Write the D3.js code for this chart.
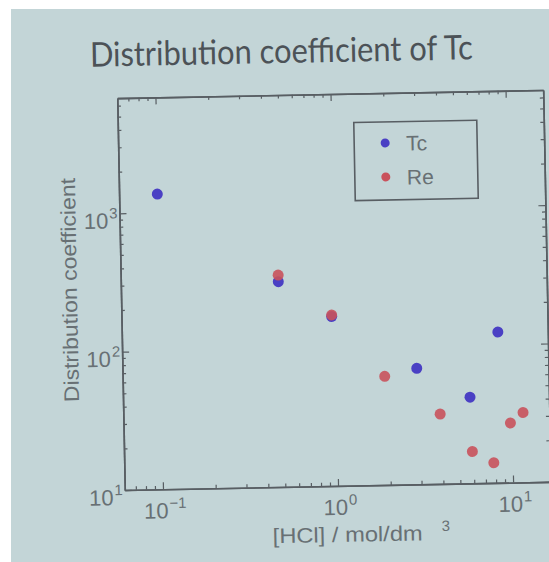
<!DOCTYPE html>
<html>
<head>
<meta charset="utf-8">
<script src="https://cdn.jsdelivr.net/npm/d3@7"></script>
<style>
  body { margin: 0; background: #fff; }
  svg { display: block; }
</style>
</head>
<body>
<svg id="chart"></svg>
<script>
const hclTc = [0.1, 0.48, 0.96, 2.9, 5.8, 8.5];
const kdTc  = [1360, 305, 168, 69, 42, 123];
const hclRe = [0.48, 0.96, 1.9, 3.9, 5.9, 7.8, 9.8, 11.6];
const kdRe  = [340, 172, 61, 32, 17, 14, 27, 32];
const seriesNames = ["Tc", "Re"];
const xDecades = [-1, 0, 1];
const yDecades = [1, 2, 3];

let W = 549, H = 562;
let plotL = 121, plotR = 547, plotT = 94, plotB = 486;

let svg = d3.select("#chart").attr("width", W).attr("height", H);

// slide background (photo has a thin white margin top/left)
svg.append("rect").attr("x", 11).attr("y", 9).attr("width", W - 11).attr("height", H - 9)
   .attr("fill", "#c3d5d7");

// photo is slightly tilted
let g = svg.append("g").attr("transform", "rotate(-1.1, 334, 291)");

let x = d3.scaleLog().domain([0.0605, 16.4]).range([plotL, plotR]);
let y = d3.scaleLog().domain([10, 6800]).range([plotB, plotT]);

let axisCol = "#585e63", textCol = "#687074";
let font = "Liberation Sans, Arial, sans-serif";

let xMajor = xDecades.map(e => Math.pow(10, e));
let yMajor = yDecades.map(e => Math.pow(10, e));
let xMinor = x.ticks().filter(v => !xMajor.some(m => Math.abs(m - v) < 1e-9));
let yMinor = y.ticks().filter(v => !yMajor.some(m => Math.abs(m - v) < 1e-9));

function drawAxis(axisFn, scale, vals, len, transform) {
  let a = g.append("g").attr("transform", transform)
    .call(axisFn(scale).tickValues(vals).tickSizeInner(len).tickSizeOuter(0).tickFormat(""));
  a.select(".domain").attr("stroke", axisCol).attr("stroke-width", 1.6);
  a.selectAll(".tick line").attr("stroke", axisCol).attr("stroke-width", 1.2);
  return a;
}

// bottom / top
drawAxis(d3.axisBottom, x, xMajor, -7, `translate(0,${plotB})`);
drawAxis(d3.axisBottom, x, xMinor, -3.5, `translate(0,${plotB})`);
drawAxis(d3.axisTop, x, xMajor, -7, `translate(0,${plotT})`);
drawAxis(d3.axisTop, x, xMinor, -3.5, `translate(0,${plotT})`);
// left / right
drawAxis(d3.axisLeft, y, yMajor, -7, `translate(${plotL},0)`);
drawAxis(d3.axisLeft, y, yMinor, -3.5, `translate(${plotL},0)`);
drawAxis(d3.axisRight, y, yMajor, -7, `translate(${plotR},0)`);
drawAxis(d3.axisRight, y, yMinor, -3.5, `translate(${plotR},0)`);

// tick labels as 10 with superscript exponent
function powLabel(sel, exp) {
  sel.append("tspan").text("10");
  sel.append("tspan").attr("dy", -10).attr("dx", 1).attr("font-size", 15)
     .text(exp < 0 ? "\u2212" + (-exp) : String(exp));
}

g.selectAll(".xlab").data(xDecades).enter().append("text")
  .attr("x", d => x(Math.pow(10, d)) + 2)
  .attr("y", plotB + 29)
  .attr("text-anchor", "middle")
  .attr("font-family", font)
  .attr("font-size", 22).attr("fill", textCol)
  .each(function(d) { powLabel(d3.select(this), d); });

g.selectAll(".ylab").data(yDecades).enter().append("text")
  .attr("x", plotL - 2)
  .attr("y", d => y(Math.pow(10, d)) + 15)
  .attr("text-anchor", "end")
  .attr("font-family", font)
  .attr("font-size", 22).attr("fill", textCol)
  .each(function(d) { powLabel(d3.select(this), d); });

// axis titles
g.append("text")
  .attr("transform", "translate(77,285) rotate(-90)")
  .attr("text-anchor", "middle")
  .attr("font-family", font)
  .attr("font-size", 21).attr("fill", textCol)
  .attr("textLength", 224).attr("lengthAdjust", "spacingAndGlyphs")
  .text("Distribution coefficient");

g.append("text")
  .attr("x", 268).attr("y", 542)
  .attr("font-family", font)
  .attr("font-size", 21).attr("fill", textCol)
  .attr("textLength", 150).attr("lengthAdjust", "spacingAndGlyphs")
  .text("[HCl] / mol/dm");
g.append("text")
  .attr("x", 437).attr("y", 533)
  .attr("font-family", font)
  .attr("font-size", 15).attr("fill", textCol)
  .text("3");

// title
g.append("text")
  .attr("x", 286).attr("y", 62)
  .attr("text-anchor", "middle")
  .attr("font-family", "Lato, 'Open Sans', sans-serif")
  .attr("font-size", 34).attr("fill", "#4c5257")
  .attr("textLength", 383).attr("lengthAdjust", "spacingAndGlyphs")
  .text("Distribution coefficient of Tc");

// points (Re drawn after Tc, as in the picture)
let blue = "#4a40c4", red = "#c9525c";
g.selectAll(".tc").data(hclTc).enter().append("circle")
  .attr("cx", d => x(d)).attr("cy", (d, i) => y(kdTc[i]))
  .attr("r", 5.5).attr("fill", blue);
g.selectAll(".re").data(hclRe).enter().append("circle")
  .attr("cx", d => x(d)).attr("cy", (d, i) => y(kdRe[i]))
  .attr("r", 5.5).attr("fill", red).attr("fill-opacity", 0.9);

// legend
let lg = g.append("g").attr("transform", "translate(357,123)");
lg.append("rect").attr("width", 123).attr("height", 78)
  .attr("fill", "none").attr("stroke", axisCol).attr("stroke-width", 1.6);
let rows = lg.selectAll(".row").data(seriesNames).enter().append("g")
  .attr("transform", (d, i) => `translate(0,${21 + i * 34})`);
rows.append("circle").attr("cx", 31).attr("cy", 0).attr("r", 4.5)
  .attr("fill", (d, i) => i === 0 ? blue : red);
rows.append("text").attr("x", 52).attr("y", 8)
  .attr("font-family", font)
  .attr("font-size", 21).attr("fill", textCol)
  .text(d => d);
</script>
</body>
</html>
